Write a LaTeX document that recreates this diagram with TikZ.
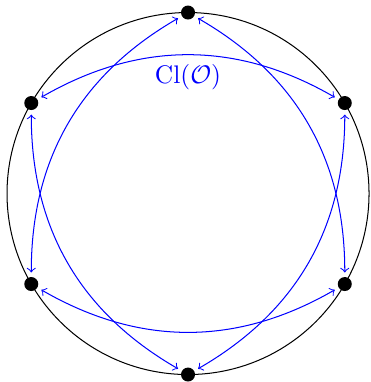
\documentclass[tikz,border=0pt]{standalone}
\begin{document}
\begin{tikzpicture}[
  dot/.style={circle,fill=black,inner sep=0pt,minimum size=5.5pt},
  bluearc/.style={blue,<->,bend left=30,shorten <=1.6pt,shorten >=1.6pt}]
\useasboundingbox (-2.597,-2.603) rectangle (2.514,2.673);
\draw (0,0) circle (2.5cm);
\foreach \a/\n in {90/a,30/b,-30/c,-90/d,-150/e,150/f}
  \node[dot] (\n) at (\a:2.5) {};
\draw[bluearc] (f) to node[below] {Cl($\mathcal{O}$)} (b);
\draw[bluearc] (a) to (c);
\draw[bluearc] (b) to (d);
\draw[bluearc] (c) to (e);
\draw[bluearc] (d) to (f);
\draw[bluearc] (e) to (a);
\end{tikzpicture}
\end{document}
